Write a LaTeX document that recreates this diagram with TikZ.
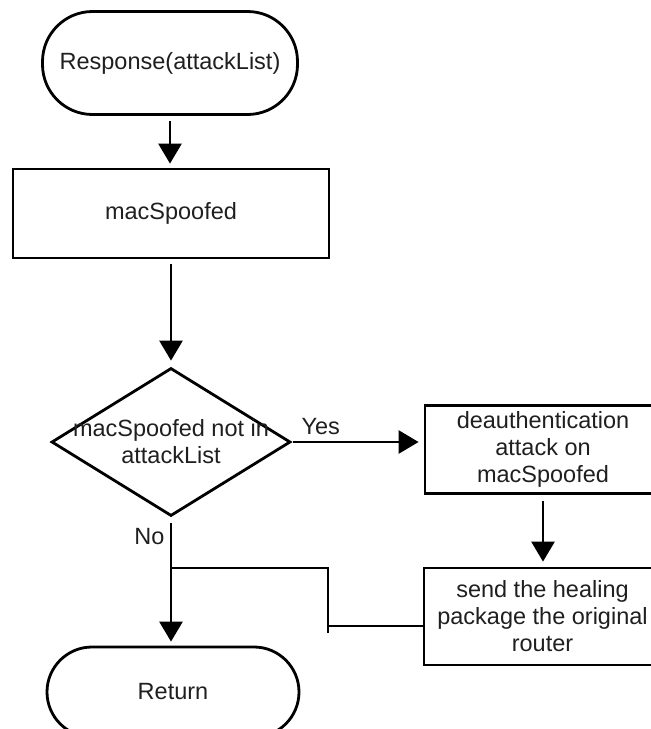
\documentclass[tikz,border=0pt]{standalone}
\usepackage{fontspec}
\setmainfont{Liberation Sans}
\usepackage{tikz}
\usetikzlibrary{shapes.geometric,arrows.meta}
\newcommand{\flowfont}{\fontsize{23.5}{27}\selectfont}
\tikzset{term/.style={draw, line width=2.8pt, rounded corners=#1, inner sep=0pt}}
\tikzset{proc/.style={draw, line width=2.8pt, inner sep=0pt, align=center}}
\tikzset{cond/.style={draw, diamond, line width=2.8pt, inner sep=0pt}}
\tikzset{flow/.style={line width=2.8pt, -{Triangle[length=20pt,width=23pt]}}}
\tikzset{link/.style={line width=2.8pt}}

\begin{document}
\begin{tikzpicture}[x=1pt, y=-1pt, font=\flowfont, text=black!88]

\useasboundingbox (0,0) rectangle (651,729);

\node[term=50pt, minimum width=255pt, minimum height=103pt] (start) at (170,63) {Response(attackList)};
\node[proc, minimum width=316pt, minimum height=89pt] (mac) at (171,213.5) {macSpoofed};
\node[cond, minimum width=239pt, minimum height=148pt,
  label={[align=center]center:macSpoofed not in\\attackList}] (dec) at (171,442) {};
\node[proc, minimum width=236pt, minimum height=88pt] (deauth) at (543,449.5) {deauthentication\\attack on\\macSpoofed};
\node[proc, minimum width=237pt, minimum height=97pt] (heal) at (542.5,616.5) {send the healing\\package the original\\router};
\node[term=45pt, minimum width=252pt, minimum height=90pt] (ret) at (173,692) {Return};

\draw[flow, shorten <=5pt, shorten >=4pt] (start.south) -- (start.south |- mac.north);
\draw[flow, shorten <=5pt, shorten >=6pt] (mac.south) -- (mac.south |- dec.north);
\draw[flow, shorten <=1pt, shorten >=5pt] (dec.east) -- (dec.east -| deauth.west);
\node[anchor=south west] (yes) at (298,438) {Yes};
\draw[flow, shorten <=6pt, shorten >=5pt] (deauth.south) -- (deauth.south |- heal.north);
\draw[flow, shorten <=6pt, shorten >=4pt] (dec.south) -- (dec.south |- ret.north);
\node[anchor=east] (no) at (168,537) {No};

% healing box back to the No line
\coordinate (bend) at (328,568);
\coordinate (foot) at (328,626);
\draw[link] ([yshift=-9.5pt]heal.west) -- (foot);
\draw[link] ([yshift=-7pt]foot) -- (bend) -- (bend -| dec.south);

\end{tikzpicture}
\end{document}
